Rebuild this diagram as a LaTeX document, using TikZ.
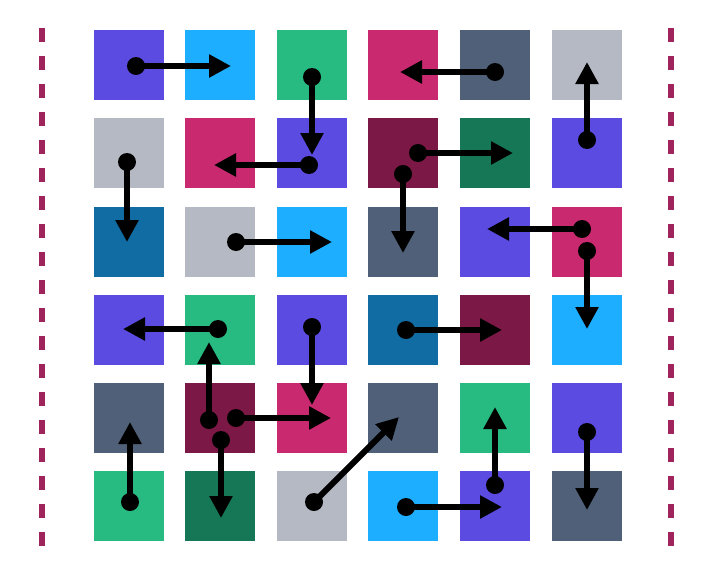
\documentclass[tikz,border=0pt]{standalone}
\usetikzlibrary{arrows.meta}
\definecolor{cpurple}{HTML}{5B4BE1}
\definecolor{clblue}{HTML}{1EAEFF}
\definecolor{cgreen}{HTML}{27BB82}
\definecolor{cmagenta}{HTML}{C8296F}
\definecolor{cslate}{HTML}{4F6078}
\definecolor{cgray}{HTML}{B4B9C4}
\definecolor{cmaroon}{HTML}{7B1845}
\definecolor{cdgreen}{HTML}{167756}
\definecolor{cdblue}{HTML}{106CA2}
\definecolor{cdash}{HTML}{A0245C}
\begin{document}
\begin{tikzpicture}[x=1pt,y=-1pt,
  sq/.style={draw=none,fill=#1,minimum width=70pt,minimum height=70pt,inner sep=0pt,anchor=north west},
  link/.style={line width=6pt,-{Triangle[length=22pt,width=22pt]}},
  dot/.style={fill=black,circle,inner sep=0pt,minimum size=18pt},
  border/.style={cdash,line width=6pt,dash pattern=on 14pt off 14pt}]
\useasboundingbox (0,0) rectangle (708,578);
\fill[white] (0,0) rectangle (708,578);
% dashed borders
\coordinate (lt) at (42,28); \coordinate (lb) at (42,546);
\coordinate (rt) at (671,28); \coordinate (rb) at (671,546);
\draw[border] (lt) -- (lb);
\draw[border] (rt) -- (rb);
% squares
\def\cx{{94,185,277,368,460,552}}
\def\ry{{30,118,207,295,383,471}}
\foreach \r/\row in {0/{cpurple,clblue,cgreen,cmagenta,cslate,cgray},
                     1/{cgray,cmagenta,cpurple,cmaroon,cdgreen,cpurple},
                     2/{cdblue,cgray,clblue,cslate,cpurple,cmagenta},
                     3/{cpurple,cgreen,cpurple,cdblue,cmaroon,clblue},
                     4/{cslate,cmaroon,cmagenta,cslate,cgreen,cpurple},
                     5/{cgreen,cdgreen,cgray,clblue,cpurple,cslate}}{
  \foreach \col [count=\c from 0] in \row {
    \pgfmathsetmacro{\xx}{\cx[\c]}
    \pgfmathsetmacro{\yy}{\ry[\r]}
    \node[sq=\col] (s\r\c) at (\xx,\yy) {};
  }
}
% arrow endpoints
\coordinate (a1s) at (136,66);  \coordinate (a1e) at (231,66);
\coordinate (a2s) at (312,77);  \coordinate (a2e) at (312,155);
\coordinate (a3s) at (309,165); \coordinate (a3e) at (214,165);
\coordinate (a4s) at (127,162); \coordinate (a4e) at (127,242);
\coordinate (a5s) at (495,72);  \coordinate (a5e) at (400,72);
\coordinate (a6s) at (587,140); \coordinate (a6e) at (587,62);
\coordinate (a7s) at (418,153); \coordinate (a7e) at (513,153);
\coordinate (a8s) at (403,174); \coordinate (a8e) at (403,253);
\coordinate (a9s) at (236,242); \coordinate (a9e) at (332,242);
\coordinate (a10s) at (582,229); \coordinate (a10e) at (487,229);
\coordinate (a11s) at (587,251); \coordinate (a11e) at (587,329);
\coordinate (a12s) at (218,329); \coordinate (a12e) at (123,329);
\coordinate (a13s) at (312,327); \coordinate (a13e) at (312,405);
\coordinate (a14s) at (406,330); \coordinate (a14e) at (502,330);
\coordinate (a15s) at (209,420); \coordinate (a15e) at (209,342);
\coordinate (a16s) at (236,418); \coordinate (a16e) at (331,418);
\coordinate (a17s) at (221,440); \coordinate (a17e) at (221,518);
\coordinate (a18s) at (130,502); \coordinate (a18e) at (130,422);
\coordinate (a19s) at (314,502); \coordinate (a19e) at (399,417);
\coordinate (a20s) at (495,485); \coordinate (a20e) at (495,407);
\coordinate (a21s) at (406,507); \coordinate (a21e) at (502,507);
\coordinate (a22s) at (587,432); \coordinate (a22e) at (587,510);
\foreach \i in {1,...,22}{
  \draw[link] (a\i s) -- (a\i e);
  \node[dot] (d\i) at (a\i s) {};
}
\end{tikzpicture}
\end{document}
